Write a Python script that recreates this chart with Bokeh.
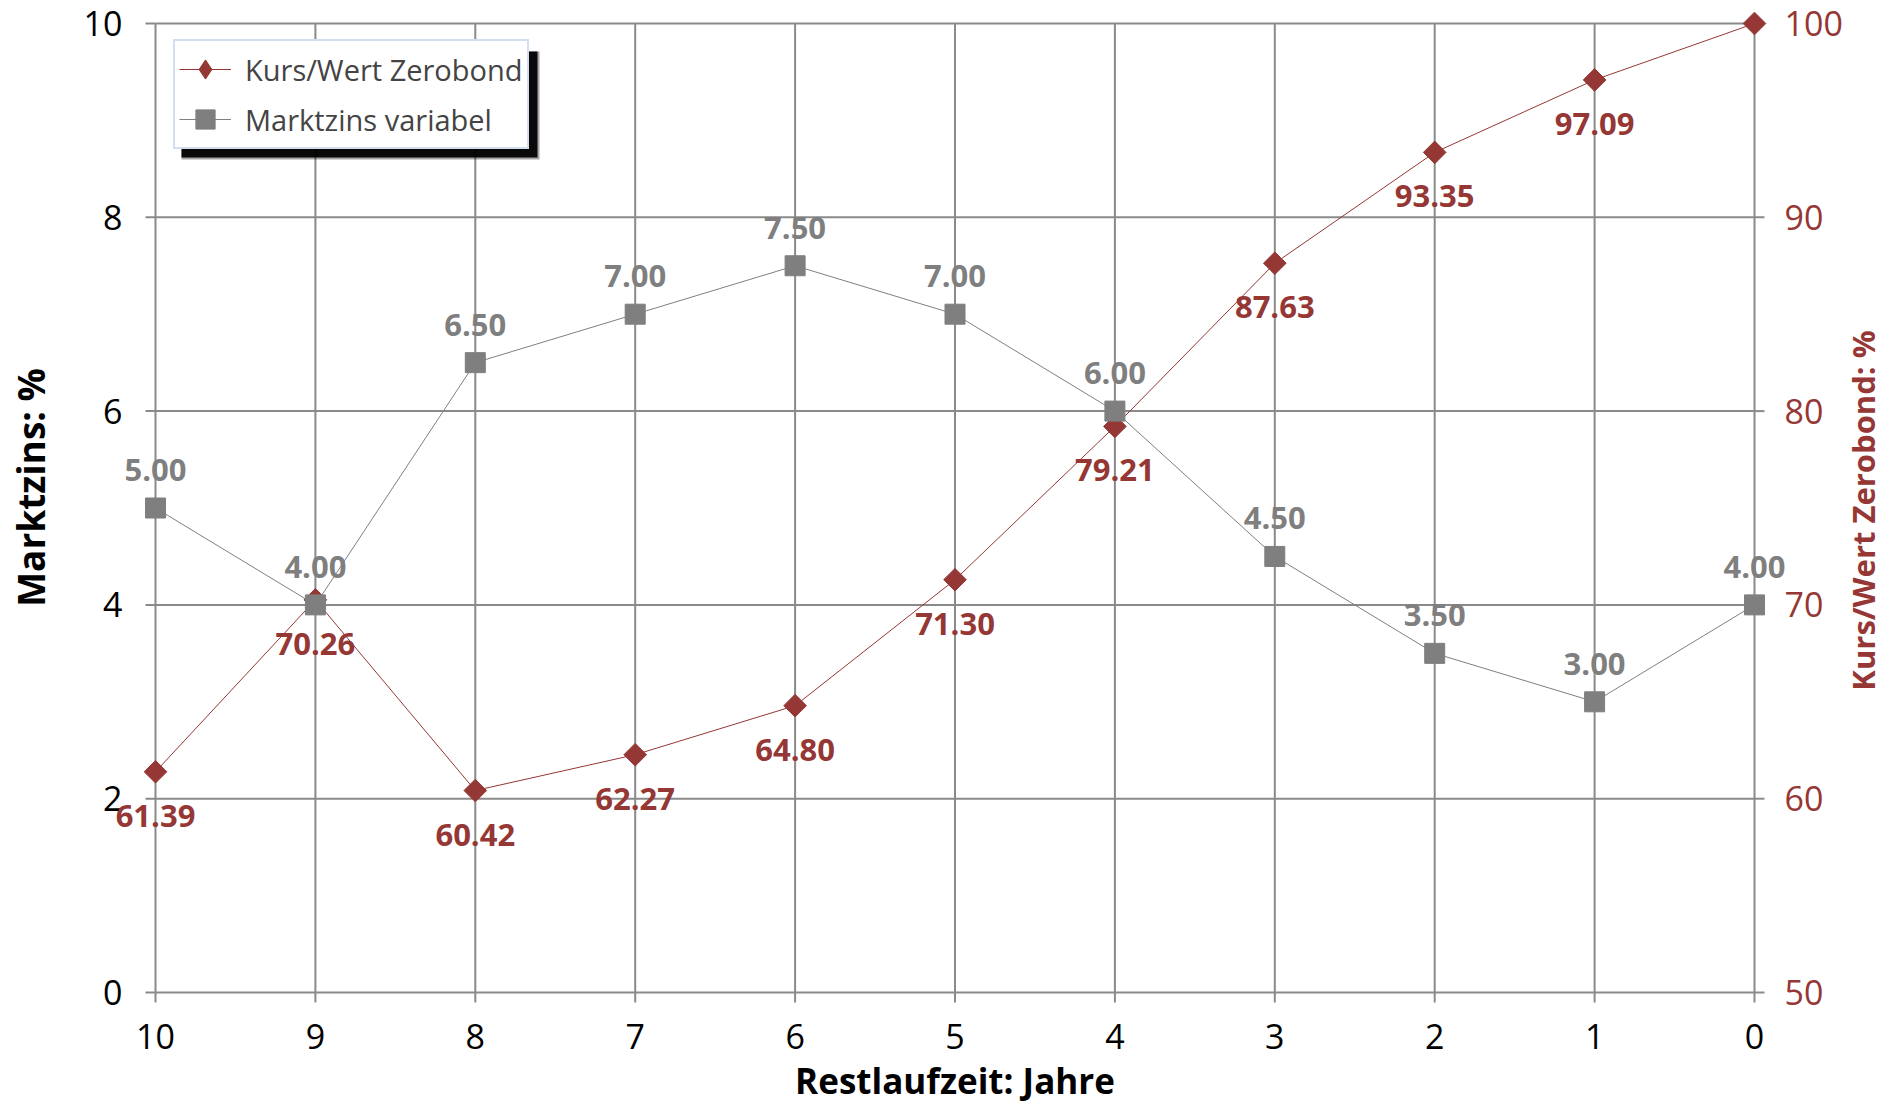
import math
from bokeh.plotting import figure
from bokeh.models import (Range1d, Legend, LegendItem, BoxAnnotation,
                          ColumnDataSource, LabelSet, Label)
from bokeh.core.properties import value
from bokeh.embed import file_html
from bokeh.resources import INLINE

# Restlaufzeit in Jahren (10 ... 0)
restlaufzeit = [10, 9, 8, 7, 6, 5, 4, 3, 2, 1, 0]
# Marktzins variabel in %
marktzins = [5.00, 4.00, 6.50, 7.00, 7.50, 7.00, 6.00, 4.50, 3.50, 3.00, 4.00]
# Kurs/Wert des Zerobonds in %
kurs = [61.39, 70.26, 60.42, 62.27, 64.80, 71.30, 79.21, 87.63, 93.35, 97.09, 100.00]
kurs_labels = ["61.39", "70.26", "60.42", "62.27", "64.80", "71.30", "79.21",
               "87.63", "93.35", "97.09", ""]
zins_labels = ["%.2f" % v for v in marktzins]

x_ticks = [10, 9, 8, 7, 6, 5, 4, 3, 2, 1, 0]
left_ticks = [0, 2, 4, 6, 8, 10]
right_ticks = [50, 60, 70, 80, 90, 100]

RED = "#953735"
GREY = "#7f7f7f"
GRID = "#8a8a8a"
FONT = "Open Sans"

# canvas geometry (pixels); the frame fills the canvas, the grid sits inside it
W, H = 1899, 1104
PAD_L, PAD_R, PAD_T, PAD_B = 155, 145, 23, 112
TICK = 10

grid_w = W - PAD_L - PAD_R
grid_h = H - PAD_T - PAD_B
x_span = x_ticks[0] - x_ticks[-1]
y_span = left_ticks[-1] - left_ticks[0]
r_scale = (right_ticks[-1] - right_ticks[0]) / y_span
ppx = grid_w / x_span
ppy = grid_h / y_span

src = ColumnDataSource(dict(x=restlaufzeit, zins=marktzins, kurs=kurs,
                            kl=kurs_labels, zl=zins_labels))
left_src = ColumnDataSource(dict(x=[x_ticks[0]] * len(left_ticks), y=left_ticks,
                                 t=[str(v) for v in left_ticks]))
right_src = ColumnDataSource(dict(x=[x_ticks[-1]] * len(right_ticks), y=right_ticks,
                                  t=[str(v) for v in right_ticks]))
bottom_src = ColumnDataSource(dict(x=x_ticks, y=[left_ticks[0]] * len(x_ticks),
                                   t=[str(v) for v in x_ticks]))

p = figure(width=W, height=H, output_backend="svg", toolbar_location=None,
           x_axis_location=None, y_axis_location=None,
           x_range=Range1d(x_ticks[0] + PAD_L / ppx, x_ticks[-1] - PAD_R / ppx),
           y_range=Range1d(left_ticks[0] - PAD_B / ppy, left_ticks[-1] + PAD_T / ppy),
           min_border_left=0, min_border_right=0, min_border_top=0, min_border_bottom=0)
p.outline_line_color = None
p.xgrid.visible = False
p.ygrid.visible = False
p.extra_y_ranges = {"kurs": Range1d(right_ticks[0] - PAD_B / ppy * r_scale,
                                    right_ticks[-1] + PAD_T / ppy * r_scale)}

# grid lines (the outer ones double as axis lines)
nx, ny, nr = len(x_ticks), len(left_ticks), len(right_ticks)
p.segment(x0=x_ticks, x1=x_ticks, y0=[left_ticks[0]] * nx, y1=[left_ticks[-1]] * nx,
          line_color=GRID, line_width=2)
p.segment(x0=[x_ticks[0]] * ny, x1=[x_ticks[-1]] * ny, y0=left_ticks, y1=left_ticks,
          line_color=GRID, line_width=2)
# outward tick marks
p.segment(x0=[x_ticks[0]] * ny, x1=[x_ticks[0] + TICK / ppx] * ny, y0=left_ticks, y1=left_ticks,
          line_color=GRID, line_width=2)
p.segment(x0=x_ticks, x1=x_ticks, y0=[left_ticks[0]] * nx, y1=[left_ticks[0] - TICK / ppy] * nx,
          line_color=GRID, line_width=2)
p.segment(x0=[x_ticks[-1]] * nr, x1=[x_ticks[-1] - TICK / ppx] * nr,
          y0=right_ticks, y1=right_ticks, y_range_name="kurs", line_color=GRID, line_width=2)

# tick labels
p.add_layout(LabelSet(x="x", y="y", text="t", source=left_src, text_align="right",
                      text_baseline="middle", x_offset=-33, text_color="#000000",
                      text_font=value(FONT), text_font_size="34px"))
p.add_layout(LabelSet(x="x", y="y", text="t", source=right_src, y_range_name="kurs",
                      text_align="left", text_baseline="middle", x_offset=30,
                      text_color=RED, text_font=value(FONT), text_font_size="34px"))
p.add_layout(LabelSet(x="x", y="y", text="t", source=bottom_src, text_align="center",
                      text_baseline="middle", y_offset=-44, text_color="#000000",
                      text_font=value(FONT), text_font_size="34px"))

# axis titles (screen units from the bottom-left corner)
p.add_layout(Label(x=PAD_L + grid_w / 2, y=H - 1080, x_units="screen", y_units="screen",
                   text="Restlaufzeit: Jahre", text_align="center", text_baseline="middle",
                   text_font=FONT, text_font_style="bold", text_font_size="35px",
                   text_color="#000000"))
p.add_layout(Label(x=30, y=H - 487, x_units="screen", y_units="screen", angle=math.pi / 2,
                   text="Marktzins: %", text_align="center", text_baseline="middle",
                   text_font=FONT, text_font_style="bold", text_font_size="37px",
                   text_color="#000000"))
p.add_layout(Label(x=1862, y=H - 510, x_units="screen", y_units="screen", angle=math.pi / 2,
                   text="Kurs/Wert Zerobond: %", text_align="center", text_baseline="middle",
                   text_font=FONT, text_font_style="bold", text_font_size="31px",
                   text_color=RED))

# Kurs/Wert Zerobond (right scale)
r_line = p.line("x", "kurs", source=src, y_range_name="kurs", line_color=RED, line_width=1)
r_mark = p.scatter("x", "kurs", source=src, y_range_name="kurs", marker="square",
                   angle=math.pi / 4, size=16, fill_color=RED, line_color=RED)
# Marktzins variabel (left scale)
g_line = p.line("x", "zins", source=src, line_color=GREY, line_width=1)
g_mark = p.scatter("x", "zins", source=src, marker="square", size=20,
                   fill_color=GREY, line_color=GREY)

# value labels
p.add_layout(LabelSet(x="x", y="zins", text="zl", source=src, text_align="center",
                      text_baseline="middle", y_offset=38, text_color=GREY,
                      text_font=value(FONT), text_font_style="bold", text_font_size="31px"))
p.add_layout(LabelSet(x="x", y="kurs", text="kl", source=src, y_range_name="kurs",
                      text_align="center", text_baseline="middle", y_offset=-44,
                      text_color=RED, text_font=value(FONT), text_font_style="bold",
                      text_font_size="31px"))

# legend swatch for the diamond series (not drawn in the plot itself)
r_key = p.scatter(x=[float("nan")], y=[float("nan")], marker="diamond",
                  fill_color=RED, line_color=RED)

# legend with drop shadow
LEG_L, LEG_T, LEG_W, LEG_H, SH = 173, 43, 356, 106, 8
for grow, alpha in ((2, 0.35), (0, 0.95)):
    p.add_layout(BoxAnnotation(left=LEG_L + SH, right=LEG_L + LEG_W + SH + grow,
                               top=H - (LEG_T + SH), bottom=H - (LEG_T + LEG_H + SH + grow),
                               left_units="screen", right_units="screen",
                               top_units="screen", bottom_units="screen",
                               fill_color="black", fill_alpha=alpha, line_color=None))

legend = Legend(items=[LegendItem(label="Kurs/Wert Zerobond", renderers=[r_line, r_key]),
                       LegendItem(label="Marktzins variabel", renderers=[g_line, g_mark])],
                location=(LEG_L, H - (LEG_T + LEG_H)),
                padding=4, spacing=2, glyph_width=52, glyph_height=48, label_height=48,
                label_standoff=14, label_text_font=FONT, label_text_font_size="29px",
                border_line_color="#a8bde3", border_line_width=2,
                background_fill_color="white", background_fill_alpha=1.0)
p.add_layout(legend)

open("out.html", "w").write(file_html(p, INLINE))
